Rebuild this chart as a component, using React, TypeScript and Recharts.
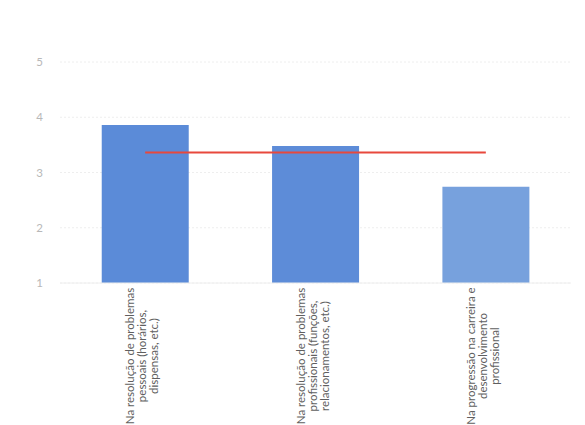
import React from 'react';
import { ComposedChart, Bar, Line, XAxis, YAxis, CartesianGrid, Cell } from 'recharts';

// Categories, split into the lines shown under each bar
const categoryLines: string[][] = [
  ['Na resolução de problemas', 'pessoais (horários,', 'dispensas, etc.)'],
  ['Na resolução de problemas', 'profissionais (funções,', 'relacionamentos, etc.)'],
  ['Na progressão na carreira e', 'desenvolvimento', 'profissional'],
];
const categories: string[] = categoryLines.map((l) => l.join(' '));
const scores: number[] = [3.86, 3.48, 2.74];
const averageScore: number[] = [3.36, 3.36, 3.36];
const yTicks: number[] = [1, 2, 3, 4, 5];

const barColors = ['#5b8bd8', '#5d8cd8', '#77a1dd'];

const data = categories.map((name, i) => ({
  name,
  idx: i,
  score: scores[i],
  avg: averageScore[i],
}));

const FONT = 'Lato, "Open Sans", sans-serif';

const CategoryTick = (props: any) => {
  const { x, y, payload } = props;
  const lines = categoryLines[payload.index] ?? [String(payload.value)];
  const baselines = [-11, 1, 13];
  return (
    <g transform={`translate(${x},${y})`}>
      <text
        transform="rotate(-90)"
        textAnchor="middle"
        fill="#5f5f5f"
        fontSize={11.5}
        fontFamily={FONT}
      >
        {lines.map((line, i) => (
          <tspan key={i} x={-73} y={baselines[i]}>
            {line}
          </tspan>
        ))}
      </text>
    </g>
  );
};

export default function App() {
  return (
    <div style={{ position: 'absolute', left: 0, top: 0, background: '#ffffff' }}>
      <ComposedChart
        width={585}
        height={425}
        data={data}
        margin={{ top: 62, right: 14, bottom: 112, left: 0 }}
        barCategoryGap="24.5%"
      >
        <CartesianGrid vertical={false} stroke="#eeeeee" strokeDasharray="2 2" />
        <XAxis
          dataKey="name"
          height={30}
          tick={<CategoryTick />}
          tickLine={false}
          axisLine={{ stroke: '#eeeeee' }}
          tickSize={0}
          tickMargin={0}
          interval={0}
        />
        <YAxis
          domain={[1, 5]}
          ticks={yTicks}
          width={60}
          tickLine={false}
          axisLine={false}
          tickSize={0}
          tickMargin={17}
          tick={{ fill: '#b8b8b8', fontSize: 11.5, fontFamily: FONT }}
        />
        <Bar dataKey="score" isAnimationActive={false}>
          {data.map((d) => (
            <Cell key={d.idx} fill={barColors[d.idx]} />
          ))}
        </Bar>
        <Line
          dataKey="avg"
          stroke="#e8483c"
          strokeWidth={2}
          dot={false}
          activeDot={false}
          isAnimationActive={false}
        />
      </ComposedChart>
    </div>
  );
}
